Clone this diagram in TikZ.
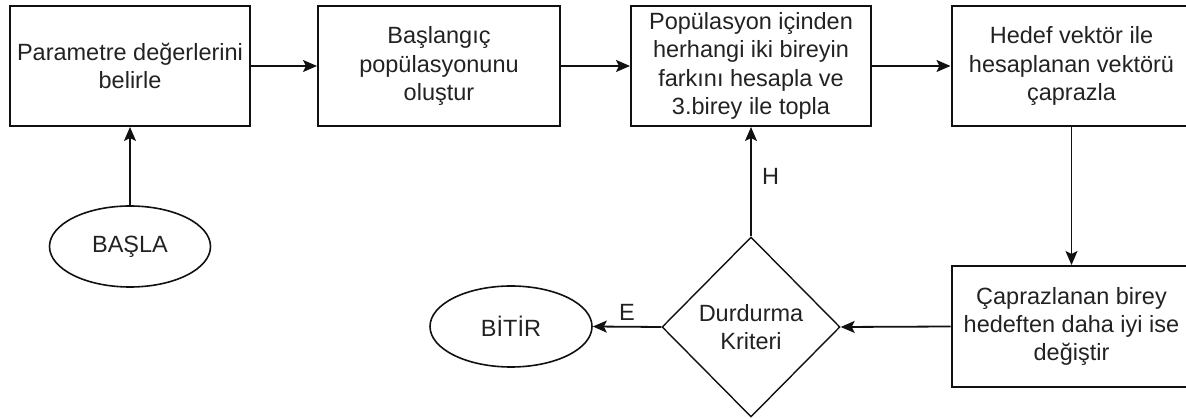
\documentclass[tikz,border=0pt]{standalone}
\usepackage{fontspec}
\setmainfont{Liberation Sans}
\usetikzlibrary{shapes.geometric,arrows.meta}
\definecolor{inkc}{HTML}{111111}
\definecolor{txtc}{HTML}{222222}
\begin{document}
\begin{tikzpicture}[x=1pt,y=-1pt,
  every node/.style={font=\fontsize{23.5}{28.2}\selectfont, text=txtc},
  procbox/.style={draw=inkc, line width=2pt, rectangle, inner sep=0pt,
    minimum width=240pt, minimum height=120pt, align=center},
  terminal/.style={draw=inkc, line width=1.6pt, ellipse, inner sep=0pt,
    minimum width=161pt, minimum height=81pt},
  decision/.style={draw=inkc, line width=1.4pt, diamond, inner sep=0pt,
    minimum width=178pt, minimum height=180pt, align=center},
  flow/.style={draw=inkc, line width=1.8pt,
    -{Stealth[length=14pt,width=12pt,inset=3pt]}},
  edgelabel/.style={font=\fontsize{23.5}{28.2}\selectfont}
]
\useasboundingbox (0,0) rectangle (1186,419);

% process steps
\node[procbox] (param) at (130,66) {Parametre değerlerini\\belirle};
\node[procbox, minimum width=242pt] (init) at (439,66) {Başlangıç\\popülasyonunu\\oluştur};
\node[procbox] (diff) at (751,66) {Popülasyon içinden\\herhangi iki bireyin\\farkını hesapla ve\\3.birey ile topla};
\node[procbox] (cross) at (1071.5,66) {Hedef vektör ile\\hesaplanan vektörü\\çaprazla};
\node[procbox, minimum height=121pt] (select) at (1071.5,326.5) {Çaprazlanan birey\\hedeften daha iyi ise\\değiştir};

% start / end and the stopping test
\node[terminal] (start) at (130,246.5) {BAŞLA};
\node[terminal, minimum width=162pt] (stop) at (511,326.5) {BİTİR};
\node[decision] (check) at (751,327) {Durdurma\\Kriteri};

% connectors
\draw[flow] (start.north) -- (param.south);
\draw[flow] (param.east) -- (init.west);
\draw[flow] (init.east) -- (diff.west);
\draw[flow] (diff.east) -- (cross.west);
\draw[flow] (cross.south) -- (select.north);
\draw[flow] (select.west) -- (check.east);
\draw[flow] (check.west) -- node[edgelabel, above, yshift=2pt] (elabel) {E} (stop.east);
\draw[flow] (check.north) -- node[edgelabel, right, xshift=7pt, pos=0.55] (hlabel) {H} (diff.south);
\end{tikzpicture}
\end{document}
